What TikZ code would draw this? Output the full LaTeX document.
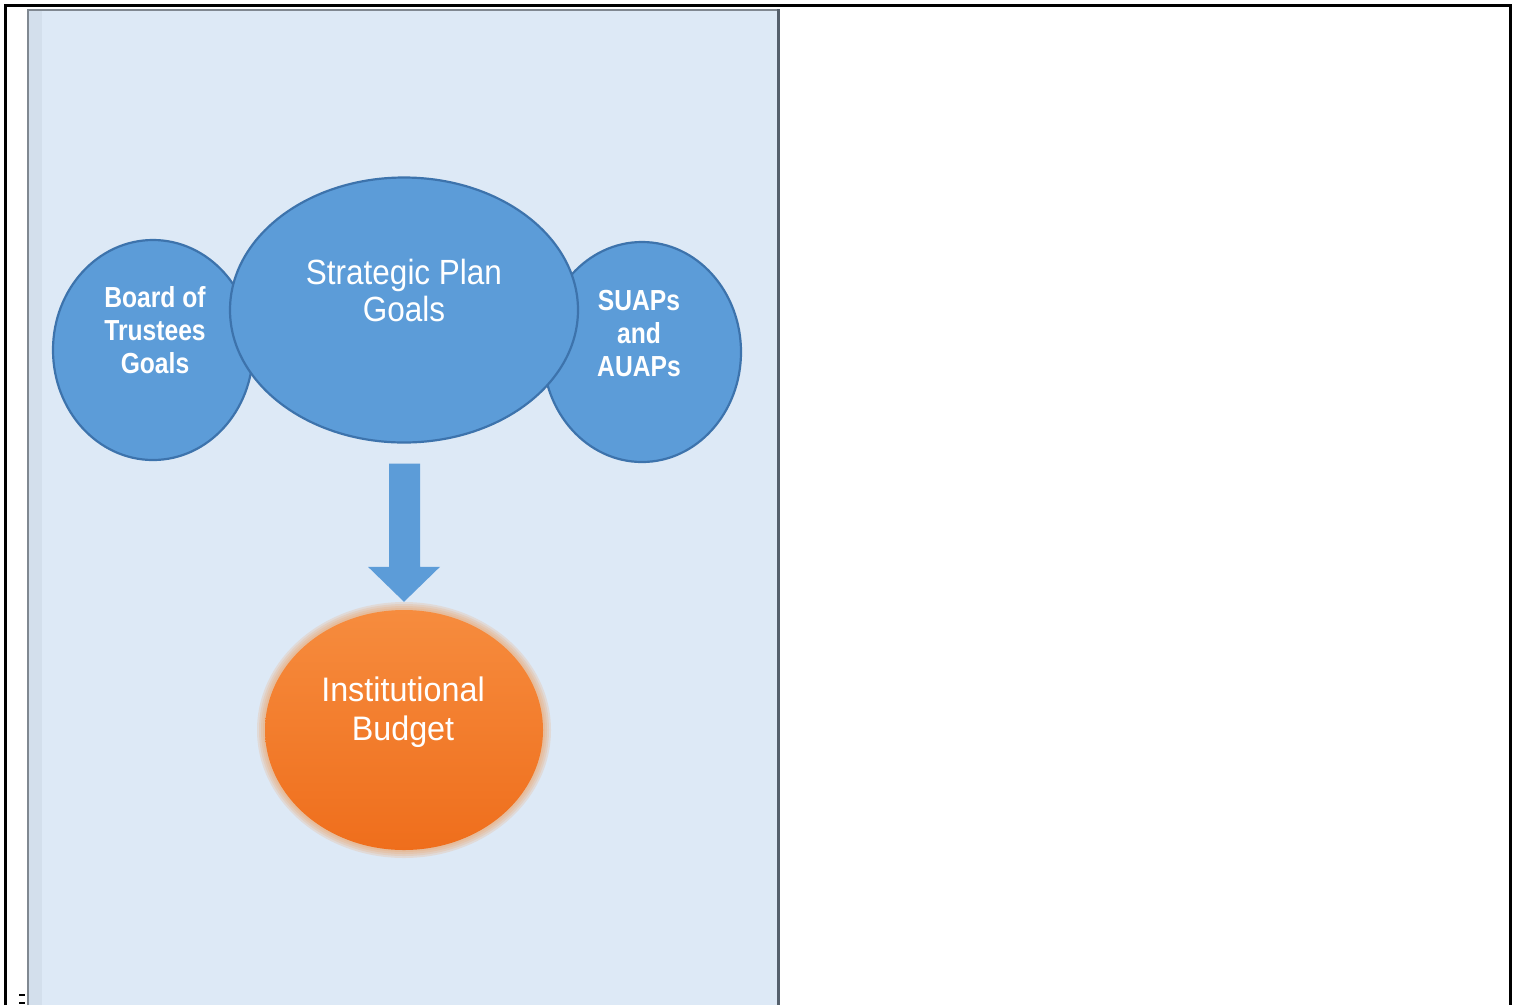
\documentclass[tikz,border=0pt]{standalone}
\usepackage{fontspec}
\setmainfont{Liberation Sans}
\newfontfamily\goalfont[FakeStretch=0.9]{Liberation Sans}
\newfontfamily\sidefont[FakeStretch=0.85]{Liberation Sans Bold}
\newfontfamily\budgetfont[FakeStretch=0.95]{Liberation Sans}
\usetikzlibrary{shapes.geometric,calc}

\definecolor{panelbg}{HTML}{DDE9F6}
\definecolor{panelside}{HTML}{D3DFEC}
\definecolor{paneledge}{HTML}{55606C}
\definecolor{goalblue}{HTML}{5C9CD8}
\definecolor{goalline}{HTML}{3D73AC}
\definecolor{budgettop}{HTML}{F68C3E}
\definecolor{budgetbot}{HTML}{EF6E1C}
\definecolor{budgetglow}{HTML}{EE9A55}

\tikzset{
  goal/.style={ellipse, draw=goalline, line width=2.2pt, fill=goalblue, inner sep=0pt},
  goaltext/.style={text=white, align=center, inner sep=0pt},
  budget/.style={ellipse, inner sep=0pt, top color=budgettop, bottom color=budgetbot},
}

\begin{document}
\begin{tikzpicture}[x=1pt, y=-1pt]
\useasboundingbox (0,0) rectangle (1525,1005);

% page frame, open at the bottom
\draw[line width=3pt, black] (5,1005) -- (5,5) -- (1510,5) -- (1510,1005);
\draw[line width=2pt, black] (19,995) -- (25,995);
\draw[line width=2pt, black] (19,1003) -- (25,1003);

% light blue panel
\fill[panelbg] (27,9) rectangle (779,1005);
\fill[panelside] (29,10) rectangle (42,1005);
\draw[paneledge!75, line width=2.5pt] (28,1005) -- (28,10) -- (778,10);
\draw[paneledge, line width=3pt] (778,9) -- (778,1005);

% goal ellipses
\node[goal, minimum width=200pt, minimum height=220pt] (bot) at (153,350) {};
\node[goal, minimum width=198pt, minimum height=220pt] (suap) at (642,352) {};
\node[goal, minimum width=348pt, minimum height=265pt] (plan) at (404,310) {};

\node[goaltext, font=\sidefont\fontsize{29}{33}\selectfont] (bottext) at (155,330) {Board of\\Trustees\\Goals};
\node[goaltext, font=\sidefont\fontsize{29}{33}\selectfont] (suaptext) at (639,334) {SUAPs\\and\\AUAPs};
\node[goaltext, font=\goalfont\fontsize{35}{37}\selectfont] (plantext) at (404,290) {Strategic Plan\\Goals};

% institutional budget with a soft glow
\foreach \g in {8,6,...,2}{
  \fill[budgetglow, opacity=0.18] (404,730) ellipse ({139+\g} and {120+\g});
}
\node[budget, minimum width=278pt, minimum height=240pt] (budget) at (404,730) {};
\node[goaltext, font=\budgetfont\fontsize{34}{39}\selectfont] (budgettext) at (403,712) {Institutional\\Budget};

% block arrow from the plan goals to the budget
\coordinate (arrtop) at ($(plan.south)+(0,20)$);
\coordinate (arrtip) at ($(budget.north)+(0,-8)$);
\fill[goalblue] ($(arrtop)+(-15,0)$) -- ($(arrtop)+(16,0)$) -- ($(arrtip)+(16,-35)$) -- ($(arrtip)+(36,-35)$)
  -- (arrtip) -- ($(arrtip)+(-36,-35)$) -- ($(arrtip)+(-15,-35)$) -- cycle;
\end{tikzpicture}
\end{document}
